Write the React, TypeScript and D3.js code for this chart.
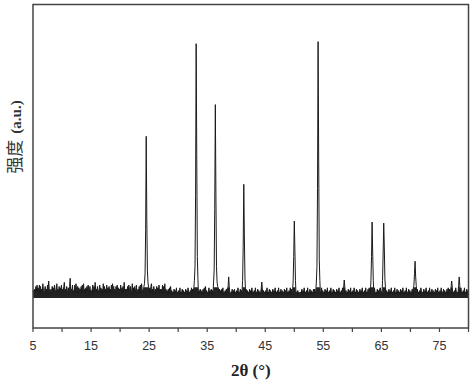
import React from 'react';
import * as d3 from 'd3';

// background noise, one base-36 digit per 0.1° step from 5.0° to 80.0° (digit * 4 = counts)
const noiseRows = [
  '4536485947', '3958364a53', '5846395c64', '4638574963', '5a46384759',
  '3648b46385', '4738e46593', '5394a64837', '4658394a46', '3748596384',
  '5469384b56', '4835694736', '3a48564937', '5846394a58', '4638594736',
  '5947384b46', '3658496384', '4a37586493', '5648394a65', '4836594837',
  '4738a46385', '3648574936', '4639384a46', '3526374835', '2436253724',
  '3527243625', '2436352734', '3547264758', '8653425364', '3526274835',
  '2437253625', '3526374687', '4635263724', '3526374253', '2436253624',
  '3527243625', '4253724635', '2436253724', '3527243625', '2436263524',
  '3527243625', '2436253724', '3527243625', '2436253724', '3527264536',
  '5362435243', '2436253724', '3527243625', '2436263547', '4253624735',
  '2436253724', '3527243625', '2436253724', '3527264725', '2436253724',
  '3527243625', '2436253724', '3527243657', '5362435274', '2436253675',
  '4253624735', '2436253724', '3527243625', '2436253724', '3527243625',
  '2436274635', '5362435274', '2436253724', '3527243625', '2436253724',
  '3527243625', '2436274635', '5362435274', '2436253724', '3527243625',
  '3',
];
const noiseScale = 4;

// diffraction peaks: [2θ, intensity]
const peakPoints: [number, number][] = [
  [24.2, 40], [24.3, 70], [24.4, 200], [24.5, 473], [24.6, 230], [24.7, 80], [24.8, 45],
  [32.8, 50], [32.9, 90], [33.0, 300], [33.1, 745], [33.2, 420], [33.3, 120], [33.4, 55],
  [36.1, 45], [36.2, 80], [36.3, 260], [36.4, 566], [36.5, 300], [36.6, 90], [36.7, 45],
  [38.6, 30], [38.7, 60], [38.8, 30],
  [41.1, 50], [41.2, 150], [41.3, 332], [41.4, 180], [41.5, 60],
  [44.3, 25], [44.4, 45], [44.5, 25],
  [49.8, 45], [49.9, 120], [50.0, 224], [50.1, 140], [50.2, 50],
  [53.8, 45], [53.9, 90], [54.0, 320], [54.1, 751], [54.2, 400], [54.3, 110], [54.4, 50],
  [58.5, 30], [58.6, 51], [58.7, 30],
  [63.2, 50], [63.3, 120], [63.4, 221], [63.5, 130], [63.6, 50],
  [65.2, 50], [65.3, 130], [65.4, 218], [65.5, 150], [65.6, 55],
  [70.6, 35], [70.7, 70], [70.8, 106], [70.9, 60], [71.0, 35],
  [77.0, 30], [77.1, 48], [77.2, 30],
  [78.3, 35], [78.4, 60], [78.5, 35],
];

const xTicks = [5, 10, 15, 20, 25, 30, 35, 40, 45, 50, 55, 60, 65, 70, 75, 80];
const xLabels = [5, 15, 25, 35, 45, 55, 65, 75];

const left = 33, right = 468.5, top = 4.5, bottom = 328;

export default function App() {
  const x = d3.scaleLinear().domain([5, 80]).range([left, right]);
  const y = d3.scaleLinear().domain([-90, 860]).range([bottom, top]);

  const digits = noiseRows.join('');
  const peakMap = new Map<number, number>();
  peakPoints.forEach(([t, v]) => peakMap.set(Math.round(t * 10), v));

  const data: [number, number][] = digits.split('').map((c, i) => {
    const k = 50 + i;
    const base = parseInt(c, 36) * noiseScale;
    const p = peakMap.get(k);
    return [k / 10, p !== undefined ? Math.max(p, base) : base];
  });

  const line = d3.line<[number, number]>()
    .x(d => x(d[0]))
    .y(d => y(d[1]));
  // dense noise band: fill under the trace, capped so peaks stay thin lines
  const area = d3.area<[number, number]>()
    .x(d => x(d[0]))
    .y0(y(-2))
    .y1(d => y(Math.min(d[1], 30)));

  const axisColor = '#444';

  return (
    <svg width={474} height={384} style={{ position: 'absolute', left: 0, top: 0 }}>
      <rect x={0} y={0} width={474} height={384} fill="#fff" />
      <path d={area(data) ?? ''} fill="#222" stroke="none" />
      <path d={line(data) ?? ''} fill="none" stroke="#1a1a1a" strokeWidth={1} strokeLinejoin="round" />
      <rect x={left} y={top} width={right - left} height={bottom - top}
        fill="none" stroke={axisColor} strokeWidth={1.5} />
      {xTicks.map(t => (
        <line key={t} x1={x(t)} x2={x(t)} y1={bottom} y2={bottom + 4} stroke={axisColor} strokeWidth={1.2} />
      ))}
      {xLabels.map(t => (
        <text key={t} x={x(t)} y={350} textAnchor="middle" fontSize={12.5}
          fontFamily="Liberation Sans, Arial, sans-serif" fill="#333">{t}</text>
      ))}
      <text x={(left + right) / 2} y={376} textAnchor="middle" fontSize={17}
        fontFamily="Liberation Serif, Times New Roman, serif" fontWeight="bold" fill="#222">
        2θ (°)
      </text>
      <text transform="translate(21,137) rotate(-90)" textAnchor="middle" fill="#333">
        <tspan fontFamily="Noto Sans CJK SC" fontSize={17}>强度</tspan>
        <tspan fontFamily="Liberation Serif, serif" fontWeight="bold" fontSize={15} dx={6}>(a.u.)</tspan>
      </text>
    </svg>
  );
}
